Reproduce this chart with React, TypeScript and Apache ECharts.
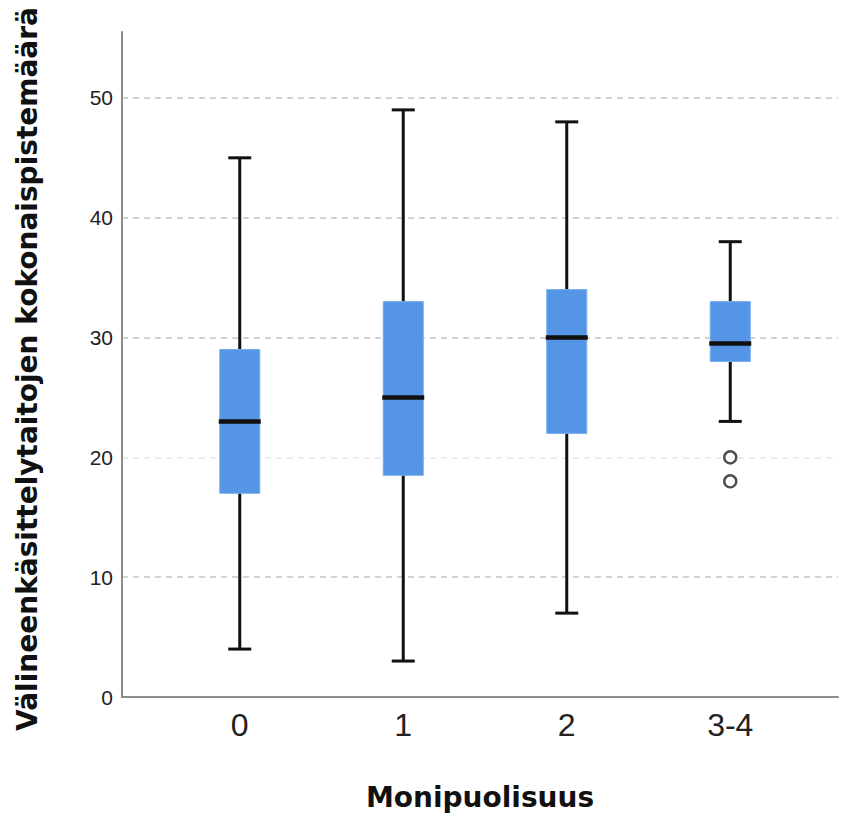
import React, { useEffect, useRef } from "react";
import * as echarts from "echarts";

const categories = ["0", "1", "2", "3-4"];
const whiskerLow = [4, 3, 7, 23];
const quartile1 = [17, 18.5, 22, 28];
const medians = [23, 25, 30, 29.5];
const quartile3 = [29, 33, 34, 33];
const whiskerHigh = [45, 49, 48, 38];
const outliers: [string, number][] = [
  ["3-4", 20],
  ["3-4", 18],
];
const yTicks = [0, 10, 20, 30, 40, 50];

const xTitle = "Monipuolisuus";
const yTitle = "Välineenkäsittelytaitojen kokonaispistemäärä";

const BOX_FILL = "#5595e5";
const INK = "#111111";

export default function App() {
  const ref = useRef<HTMLDivElement>(null);

  useEffect(() => {
    if (!ref.current) return;
    const chart = echarts.init(ref.current, undefined, { renderer: "svg" });

    const boxData = categories.map((c, i) => [
      i,
      whiskerLow[i],
      quartile1[i],
      medians[i],
      quartile3[i],
      whiskerHigh[i],
    ]);

    const yMax = 55.5;

    const option: any = {
      animation: false,
      backgroundColor: "#ffffff",
      grid: [
        { left: 122, right: 3, top: 32, bottom: 118 },
        { left: 158, right: 29, top: 32, bottom: 118 },
      ],
      xAxis: [
        {
          type: "value",
          gridIndex: 0,
          min: 0,
          max: 1,
          axisLine: { show: true, onZero: false, lineStyle: { color: "#8c8c8c", width: 2 } },
          axisTick: { show: false },
          axisLabel: { show: false },
          splitLine: { show: false },
        },
        {
          type: "category",
          gridIndex: 1,
          data: categories,
          axisLine: { show: false },
          axisTick: { show: false },
          axisLabel: {
            show: true,
            margin: 12,
            color: "#222222",
            fontSize: 32,
            fontFamily: "'Liberation Sans Narrow', 'Liberation Sans', Arial, sans-serif",
          },
          splitLine: { show: false },
        },
      ],
      yAxis: [
        {
          type: "value",
          gridIndex: 0,
          min: 0,
          max: yMax,
          interval: 10,
          axisLine: { show: true, lineStyle: { color: "#8c8c8c", width: 2 } },
          axisTick: { show: false },
          axisLabel: {
            show: true,
            showMaxLabel: false,
            margin: 9,
            color: "#222222",
            fontSize: 21,
            fontFamily: "'Liberation Sans', Arial, sans-serif",
            formatter: (v: number) => (yTicks.includes(v) ? String(v) : ""),
          },
          splitLine: {
            show: true,
            showMaxLine: false,
            lineStyle: {
              color: ["#c4c4c4", "#c4c4c4", "#e6e6e6", "#c4c4c4", "#c4c4c4", "#c4c4c4", "rgba(0,0,0,0)"],
              width: 1.6,
              type: [6, 5],
            },
          },
        },
        {
          type: "value",
          gridIndex: 1,
          min: 0,
          max: yMax,
          interval: 10,
          show: false,
          splitLine: { show: false },
        },
      ],
      series: [
        {
          type: "custom",
          xAxisIndex: 1,
          yAxisIndex: 1,
          data: boxData,
          encode: { x: 0, y: [1, 2, 3, 4, 5] },
          renderItem: (params: any, api: any) => {
            const x = api.value(0);
            const pLow = api.coord([x, api.value(1)]);
            const pQ1 = api.coord([x, api.value(2)]);
            const pMed = api.coord([x, api.value(3)]);
            const pQ3 = api.coord([x, api.value(4)]);
            const pHigh = api.coord([x, api.value(5)]);
            const cx = pLow[0];
            const boxW = 40;
            const capW = 23;
            return {
              type: "group",
              children: [
                {
                  type: "line",
                  shape: { x1: cx, y1: pHigh[1], x2: cx, y2: pLow[1] },
                  style: { stroke: INK, lineWidth: 3 },
                },
                {
                  type: "rect",
                  shape: { x: cx - boxW / 2, y: pQ3[1], width: boxW, height: pQ1[1] - pQ3[1] },
                  style: { fill: BOX_FILL, stroke: "#78acee", lineWidth: 1 },
                },
                {
                  type: "line",
                  shape: { x1: cx - boxW / 2 - 1, y1: pMed[1], x2: cx + boxW / 2 + 1, y2: pMed[1] },
                  style: { stroke: INK, lineWidth: 4.5 },
                },
                {
                  type: "line",
                  shape: { x1: cx - capW / 2, y1: pHigh[1], x2: cx + capW / 2, y2: pHigh[1] },
                  style: { stroke: INK, lineWidth: 3 },
                },
                {
                  type: "line",
                  shape: { x1: cx - capW / 2, y1: pLow[1], x2: cx + capW / 2, y2: pLow[1] },
                  style: { stroke: INK, lineWidth: 3 },
                },
              ],
            };
          },
          z: 3,
        },
        {
          type: "scatter",
          xAxisIndex: 1,
          yAxisIndex: 1,
          data: outliers,
          symbol: "circle",
          symbolSize: 12,
          itemStyle: { color: "#ffffff", borderColor: "#222222", borderWidth: 2.4 },
          z: 4,
        },
      ],
      graphic: [
        {
          type: "text",
          x: 480,
          y: 797,
          style: {
            text: xTitle,
            fontSize: 28,
            fontWeight: "bold",
            fontFamily: "'DejaVu Sans', sans-serif",
            fill: "#111111",
            textAlign: "center",
            textVerticalAlign: "middle",
          },
        },
        {
          type: "text",
          x: 27,
          y: 369,
          rotation: Math.PI / 2,
          style: {
            text: yTitle,
            fontSize: 28,
            fontWeight: "bold",
            fontFamily: "'DejaVu Sans', sans-serif",
            fill: "#111111",
            textAlign: "center",
            textVerticalAlign: "middle",
          },
        },
      ],
    };

    chart.setOption(option);
    return () => chart.dispose();
  }, []);

  return (
    <div
      ref={ref}
      style={{ position: "absolute", left: 0, top: 0, width: 841, height: 815 }}
    />
  );
}
